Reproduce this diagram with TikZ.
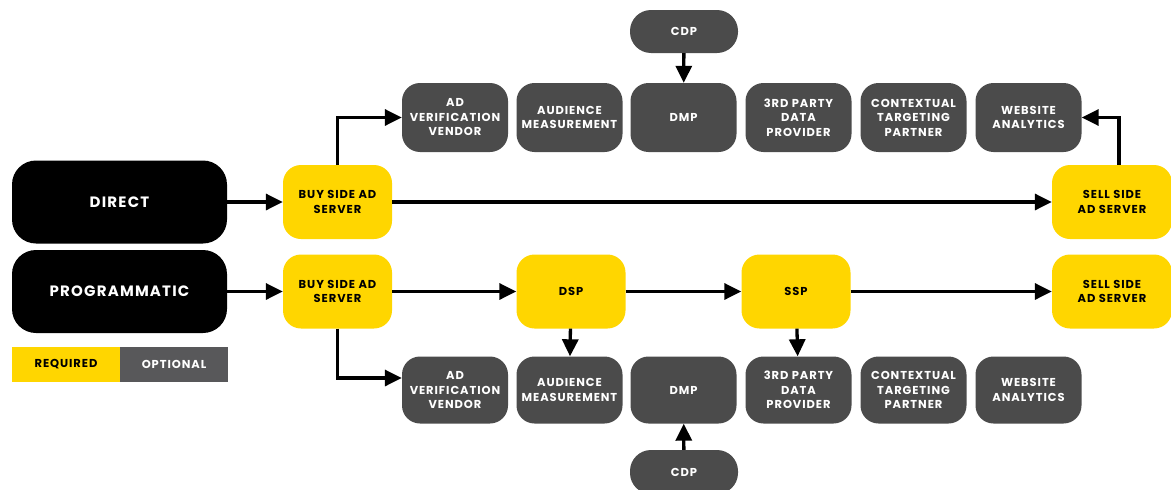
\documentclass[tikz,border=0pt]{standalone}
\usepackage{fontspec}
\setmainfont{Poppins}[LetterSpace=8]
\usetikzlibrary{arrows.meta}
\definecolor{ylw}{HTML}{FFD600}
\definecolor{gry}{HTML}{4B4B4B}
\definecolor{lgry}{HTML}{58585A}
\begin{document}
\begin{tikzpicture}[x=1pt,y=-1pt,
 box/.style={rounded corners=18pt, align=center, inner sep=0pt, font=\bfseries\fontsize{11.5}{14.5}\selectfont},
 req/.style={box, fill=ylw, text=black, minimum width=109pt, minimum height=74pt},
 opt/.style={box, fill=gry, text=white, minimum width=106pt, minimum height=68pt},
 cdpbox/.style={box, fill=gry, text=white, rounded corners=21pt, minimum width=108pt, minimum height=43pt},
 chan/.style={box, fill=black, text=white, rounded corners=24pt, minimum width=215pt, minimum height=83pt, font=\bfseries\fontsize{15}{18}\selectfont},
 leg/.style={inner sep=0pt, minimum width=108pt, minimum height=35pt, font=\bfseries\fontsize{11.5}{13}\selectfont},
 arr/.style={line width=3.3pt, -{Triangle[length=17pt,width=16pt]}}]
\useasboundingbox (0,0) rectangle (1171,490);
\clip (0,0) rectangle (1171,490);
% channels
\node[chan] (direct) at (119.5,202) {DIRECT};
\node[chan] (prog) at (119.5,291.5) {PROGRAMMATIC};
% legend
\node[leg, fill=ylw, text=black] (lreq) at (66,364.5) {REQUIRED};
\node[leg, fill=lgry, text=white] (lopt) at (174,364.5) {OPTIONAL};
% required servers
\node[req] (buy1) at (337.5,202) {BUY SIDE AD\\SERVER};
\node[req] (buy2) at (337.5,291.5) {BUY SIDE AD\\SERVER};
\node[req] (dsp) at (571,291.5) {DSP};
\node[req] (ssp) at (796,291.5) {SSP};
\node[req, minimum width=120pt] (sell1) at (1112,202) {SELL SIDE\\AD SERVER};
\node[req, minimum width=120pt] (sell2) at (1112,291.5) {SELL SIDE\\AD SERVER};
% top optional row
\node[opt, minimum height=69pt] (adv1) at (455,117.5) {AD\\VERIFICATION\\VENDOR};
\node[opt, minimum height=69pt] (aud1) at (569.5,117.5) {AUDIENCE\\MEASUREMENT};
\node[opt, minimum height=69pt] (dmp1) at (683.5,117.5) {DMP};
\node[opt, minimum height=69pt] (tpd1) at (798.5,117.5) {3RD PARTY\\DATA\\PROVIDER};
\node[opt, minimum height=69pt] (ctp1) at (913.5,117.5) {CONTEXTUAL\\TARGETING\\PARTNER};
\node[opt, minimum height=69pt] (web1) at (1028.5,117.5) {WEBSITE\\ANALYTICS};
\node[cdpbox] (cdp1) at (684,31.5) {CDP};
% bottom optional row
\node[opt, minimum height=67pt] (adv2) at (455,390) {AD\\VERIFICATION\\VENDOR};
\node[opt, minimum height=67pt] (aud2) at (569.5,390) {AUDIENCE\\MEASUREMENT};
\node[opt, minimum height=67pt] (dmp2) at (683.5,390) {DMP};
\node[opt, minimum height=67pt] (tpd2) at (798.5,390) {3RD PARTY\\DATA\\PROVIDER};
\node[opt, minimum height=67pt] (ctp2) at (913.5,390) {CONTEXTUAL\\TARGETING\\PARTNER};
\node[opt, minimum height=67pt] (web2) at (1028.5,390) {WEBSITE\\ANALYTICS};
\node[cdpbox, minimum height=44pt] (cdp2) at (684,472) {CDP};
% connectors
\draw[arr] (direct) -- (buy1);
\draw[arr] (prog) -- (buy2);
\draw[arr] (buy1) -- (sell1);
\draw[arr] (buy2) -- (dsp);
\draw[arr] (dsp) -- (ssp);
\draw[arr] (ssp) -- (sell2);
\draw[arr] (buy1.north) |- (adv1.west);
\draw[arr] (buy2.south) |- ([yshift=12pt]adv2.west);
\draw[arr] ([xshift=7pt]sell1.north) |- (web1.east);
\draw[arr] (cdp1) -- (dmp1);
\draw[arr] (cdp2) -- (dmp2);
\draw[arr] (dsp) -- (aud2);
\draw[arr] (ssp) -- (tpd2);
\end{tikzpicture}
\end{document}
